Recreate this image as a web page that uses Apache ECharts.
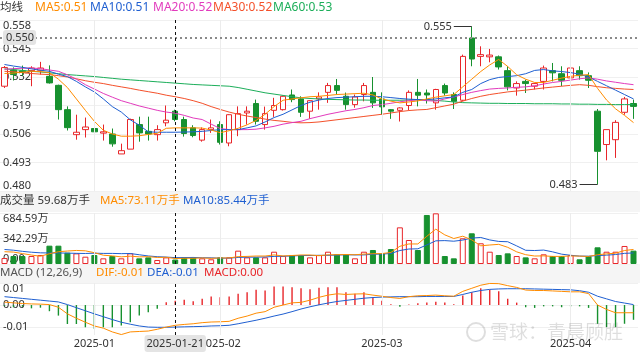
<!DOCTYPE html>
<html><head><meta charset="utf-8">
<script src="https://cdn.jsdelivr.net/npm/echarts@6/dist/echarts.min.js"></script>
<style>html,body{margin:0;padding:0;background:#fff}#c{width:640px;height:354px}</style>
</head><body><div id="c"></div>
<script>
const dates = ['2024-12-24','2024-12-25','2024-12-26','2024-12-27','2024-12-30','2024-12-31','2025-01-02','2025-01-03','2025-01-06','2025-01-07',
'2025-01-08','2025-01-09','2025-01-10','2025-01-13','2025-01-14','2025-01-15','2025-01-16','2025-01-17','2025-01-20','2025-01-21',
'2025-01-22','2025-01-23','2025-01-24','2025-01-27','2025-02-05','2025-02-06','2025-02-07','2025-02-10','2025-02-11','2025-02-12',
'2025-02-13','2025-02-14','2025-02-17','2025-02-18','2025-02-19','2025-02-20','2025-02-21','2025-02-24','2025-02-25','2025-02-26',
'2025-02-27','2025-02-28','2025-03-03','2025-03-04','2025-03-05','2025-03-06','2025-03-07','2025-03-10','2025-03-11','2025-03-12',
'2025-03-13','2025-03-14','2025-03-17','2025-03-18','2025-03-19','2025-03-20','2025-03-21','2025-03-24','2025-03-25','2025-03-26',
'2025-03-27','2025-03-28','2025-03-31','2025-04-01','2025-04-02','2025-04-03','2025-04-07','2025-04-08','2025-04-09','2025-04-10','2025-04-11'];

const openP = [.5278,.5351,.5348,.5349,.5351,.5323,.5282,.5171,.5057,.5080,
.5085,.5064,.5060,.4969,.4991,.5103,.5072,.5057,.5111,.5164,
.5126,.5088,.5032,.5080,.5103,.5019,.5080,.5156,.5199,.5103,
.5168,.5171,.5238,.5220,.5164,.5220,.5250,.5281,.5232,.5194,
.5240,.5250,.5220,.5171,.5168,.5190,.5250,.5247,.5202,.5281,
.5240,.5214,.5498,.5414,.5412,.5412,.5349,.5270,.5300,.5278,
.5300,.5349,.5335,.5316,.5349,.5326,.5164,.5012,.5034,.5159,.5199];
const closeP = [.5363,.5331,.5342,.5361,.5361,.5293,.5171,.5089,.5068,.5092,
.5070,.5070,.5015,.4984,.5126,.5065,.5060,.5080,.5123,.5126,
.5062,.5053,.5080,.5088,.5022,.5148,.5153,.5164,.5118,.5153,
.5190,.5232,.5217,.5159,.5212,.5229,.5281,.5259,.5194,.5229,
.5281,.5202,.5184,.5164,.5179,.5250,.5237,.5238,.5263,.5247,
.5209,.5414,.5402,.5422,.5420,.5366,.5275,.5290,.5290,.5290,
.5361,.5339,.5305,.5361,.5326,.5305,.4981,.5080,.5113,.5220,.5186];
const lowP = [.5270,.5304,.5325,.5278,.5331,.5290,.5126,.5076,.5034,.5044,
.4980,.5030,.5002,.4969,.4991,.5025,.5030,.5030,.5095,.5118,
.5048,.5045,.5025,.5065,.5012,.5004,.5050,.5103,.5103,.5080,
.5138,.5167,.5205,.5138,.5129,.5171,.5202,.5240,.5171,.5180,
.5209,.5179,.5148,.5129,.5117,.5168,.5186,.5199,.5171,.5235,
.5174,.5209,.5369,.5369,.5387,.5354,.5259,.5235,.5247,.5263,
.5263,.5300,.5278,.5300,.5308,.5270,.4830,.4940,.4951,.5148,.5129];
const highP = [.5370,.5364,.5372,.5369,.5389,.5373,.5285,.5186,.5148,.5135,
.5112,.5103,.5085,.5016,.5130,.5139,.5139,.5100,.5190,.5171,
.5139,.5100,.5090,.5126,.5118,.5150,.5186,.5186,.5217,.5185,
.5225,.5235,.5263,.5232,.5214,.5250,.5293,.5311,.5249,.5240,
.5293,.5320,.5250,.5174,.5182,.5259,.5311,.5263,.5266,.5290,
.5250,.5422,.5550,.5460,.5448,.5418,.5369,.5300,.5308,.5293,
.5372,.5384,.5369,.5387,.5369,.5341,.5174,.5080,.5123,.5229,.5217];

const ma5 = [.5336,.5338,.5342,.5346,.5345,.5340,.5310,.5272,.5220,.5168,
.5118,.5077,.5060,.5050,.5050,.5052,.5058,.5063,.5086,.5088,
.5088,.5088,.5087,.5078,.5066,.5075,.5086,.5102,.5122,.5150,
.5185,.5214,.5220,.5225,.5230,.5232,.5236,.5240,.5242,.5244,
.5246,.5238,.5220,.5210,.5202,.5206,.5211,.5220,.5228,.5234,
.5240,.5275,.5310,.5345,.5375,.5400,.5368,.5330,.5310,.5295,
.5295,.5305,.5315,.5323,.5328,.5331,.5268,.5215,.5175,.5145,.5112];
const ma10 = [.5377,.5370,.5364,.5357,.5351,.5346,.5333,.5322,.5300,.5275,
.5252,.5220,.5185,.5160,.5125,.5100,.5070,.5068,.5068,.5068,
.5069,.5070,.5072,.5076,.5080,.5080,.5080,.5088,.5097,.5115,
.5135,.5150,.5170,.5190,.5205,.5215,.5222,.5226,.5228,.5230,
.5232,.5232,.5230,.5226,.5222,.5219,.5217,.5217,.5220,.5225,
.5229,.5250,.5263,.5290,.5308,.5318,.5322,.5326,.5335,.5350,
.5354,.5348,.5345,.5340,.5333,.5320,.5300,.5280,.5260,.5240,.5220];
const ma20 = [.5355,.5358,.5360,.5361,.5358,.5352,.5346,.5330,.5310,.5285,
.5265,.5245,.5228,.5212,.5200,.5188,.5178,.5168,.5160,.5155,
.5145,.5133,.5126,.5105,.5085,.5080,.5080,.5080,.5082,.5088,
.5095,.5105,.5112,.5118,.5130,.5140,.5150,.5158,.5166,.5172,
.5180,.5190,.5194,.5200,.5207,.5212,.5216,.5212,.5210,.5220,
.5229,.5240,.5250,.5258,.5265,.5268,.5270,.5273,.5275,.5280,
.5288,.5295,.5300,.5306,.5312,.5316,.5310,.5302,.5296,.5290,.5285];
const ma30 = [.5346,.5344,.5340,.5336,.5333,.5331,.5326,.5320,.5312,.5303,
.5296,.5290,.5282,.5275,.5268,.5260,.5253,.5246,.5237,.5230,
.5222,.5212,.5200,.5185,.5172,.5160,.5150,.5142,.5135,.5128,
.5122,.5118,.5113,.5111,.5112,.5115,.5120,.5125,.5130,.5135,
.5140,.5145,.5150,.5156,.5162,.5167,.5170,.5172,.5180,.5188,
.5196,.5210,.5222,.5232,.5240,.5246,.5252,.5256,.5260,.5265,
.5270,.5274,.5278,.5282,.5285,.5282,.5276,.5271,.5268,.5265,.5263];
const ma60 = [.5357,.5354,.5350,.5346,.5343,.5339,.5335,.5331,.5328,.5325,
.5322,.5318,.5314,.5310,.5307,.5304,.5301,.5298,.5295,.5292,
.5289,.5286,.5284,.5282,.5280,.5278,.5272,.5264,.5256,.5248,
.5242,.5236,.5230,.5225,.5222,.5220,.5218,.5217,.5216,.5215,
.5215,.5214,.5214,.5214,.5214,.5215,.5216,.5216,.5213,.5210,
.5206,.5203,.5202,.5201,.5200,.5200,.5199,.5199,.5199,.5198,
.5198,.5198,.5197,.5197,.5196,.5196,.5195,.5195,.5194,.5194,.5194];

const volume = [80,107,107,107,121,246,246,152,143,98,
121,76,107,76,143,76,89,54,89,59.68,
89,89,76,63,89,89,179,89,89,89,
165,107,121,121,89,120,165,130,130,76,
165,188,143,201,492,322,188,658,680,107,
76,345,412,278,165,121,143,107,89,76,
130,107,107,121,63,107,224,165,165,242,179];
const volMa5 = [165,160,140,120,104,138,165,174,182,177,
152,118,109,96,105,96,98,88,90,73.11,
77,77,81,76,81,81,99,102,107,107,
122,108,114,121,121,112,123,125,127,124,
133,138,140,155,238,269,269,372,468,391,
342,373,324,244,255,264,224,163,125,107,
109,102,102,108,106,101,124,136,145,181,195];
const volMa10 = [195,185,170,158,150,148,148,146,143,141,
145,142,142,139,141,124,108,98,93,85.44,
86,88,84,83,78,79,88,92,92,94,
102,104,108,114,114,117,116,120,124,122,
122,131,133,141,181,201,204,256,311,314,
306,321,348,356,323,303,299,243,184,181,
187,163,132,117,106,105,113,119,127,143,148];

const macdHist = [-.0005,-.0010,-.0008,-.0015,-.0012,-.0028,-.0048,-.0086,-.0086,-.0101,
-.0108,-.0101,-.0101,-.0093,-.0078,-.0048,-.0033,-.0017,.0013,.0020,
.0024,.0017,.0028,.0039,.0035,.0039,.0051,.0058,.0069,.0066,
.0084,.0084,.0081,.0076,.0072,.0078,.0081,.0081,.0058,.0051,
.0058,.0035,.0020,.0003,-.0008,.0002,.0008,.0012,.0015,.0012,
.0004,.0043,.0058,.0076,.0069,.0063,.0028,.0011,-.0010,-.0013,
-.0006,-.0006,-.0010,-.0006,-.0006,-.0013,-.0085,-.0100,-.0100,-.0085,-.0067];
const dif = [.0013,.0010,.0007,.0005,.0004,.0002,-.0010,-.0040,-.0060,-.0078,
-.0095,-.0105,-.0122,-.0134,-.0122,-.0120,-.0118,-.0110,-.0100,-.0092,
-.0088,-.0085,-.0080,-.0077,-.0076,-.0074,-.0060,-.0050,-.0037,-.0030,
-.0010,.0000,.0010,.0012,.0022,.0035,.0045,.0051,.0048,.0050,
.0051,.0045,.0040,.0034,.0030,.0038,.0042,.0043,.0045,.0042,
.0040,.0062,.0076,.0090,.0098,.0097,.0088,.0080,.0068,.0066,
.0066,.0064,.0062,.0060,.0060,.0052,.0000,-.0020,-.0035,-.0035,-.0035];
const dea = [.0038,.0034,.0030,.0026,.0022,.0018,.0014,.0002,-.0012,-.0026,
-.0040,-.0053,-.0066,-.0078,-.0087,-.0095,-.0100,-.0101,-.0101,-.0100,
-.0099,-.0098,-.0097,-.0095,-.0094,-.0092,-.0085,-.0077,-.0069,-.0060,
-.0050,-.0041,-.0030,-.0018,-.0008,.0001,.0009,.0016,.0021,.0026,
.0031,.0034,.0036,.0037,.0038,.0038,.0038,.0039,.0039,.0039,
.0039,.0048,.0058,.0066,.0071,.0073,.0074,.0074,.0074,.0073,
.0072,.0071,.0070,.0069,.0065,.0058,.0040,.0028,.0016,.0009,.0002];

const priceTicks = [0.480,0.493,0.506,0.519,0.532,0.545,0.558];
const volTicks = [0, 342.295, 684.59];
const volTickLabels = ['0.00','342.29万','684.59万'];
const macdTicks = [-0.01, 0, 0.01];
const macdTickLabels = ['-0.01','0.00','0.01'];
const xLabelIndex = [10,24,42,63];
const xLabelText = ['2025-01','2025-02','2025-03','2025-04'];
const focusIndex = 19;
const focusPrice = 0.550;

const FONT = '"Noto Sans", "Noto Sans CJK SC", sans-serif';
const UP = '#e8262a', DOWN = '#17912f';
const C5 = '#ff8c00', C10 = '#1f5fd1', C20 = '#e23bbd', C30 = '#f4502a', C60 = '#1cae5a';

const candles = dates.map((d,i)=>[openP[i], closeP[i], lowP[i], highP[i]]);
const isUp = i => closeP[i] >= openP[i];

const hiVal = Math.max(...highP), hiIdx = highP.indexOf(hiVal);
const loVal = Math.min(...lowP), loIdx = lowP.indexOf(loVal);

function pick(arr, labels){ return v => { let k=0, b=1e9; arr.forEach((t,j)=>{const d=Math.abs(t-v); if(d<b){b=d;k=j;}}); return labels[k]; }; }

const chart = echarts.init(document.getElementById('c'), null, {renderer:'canvas'});
const grids = [
  {left:-1, right:2, top:20, height:171},
  {left:-1, right:2, top:213, height:51},
  {left:-1, right:2, top:283, height:52}
];
const xAxes = [0,1,2].map(g => ({
  type:'category', gridIndex:g, data:dates, boundaryGap:true,
  axisLine:{show:false}, axisTick:{show:false}, splitLine:{show:false},
  axisLabel: g===2 ? {
    show:true, color:'#333', fontSize:11, margin:3, fontFamily:FONT,
    interval:(i)=>xLabelIndex.indexOf(i)>=0,
    formatter:(v,i)=>xLabelText[xLabelIndex.indexOf(i)] || ''
  } : {show:false},
  axisPointer:{
    show:true, type:'line', value:focusIndex, status:'show', triggerTooltip:false, snap:false,
    lineStyle:{color:'#111', type:[3,3], width:1},
    label:{show:g===2, formatter:()=>dates[focusIndex], backgroundColor:'#e4e4e4', color:'#333', fontSize:11, padding:[3,2,3,2], fontFamily:FONT, margin:0}
  }
}));
const yCommon = {axisLine:{show:false}, splitLine:{show:true, lineStyle:{color:'#f0f0f0'}}};
const yAxes = [
  Object.assign({}, yCommon, {type:'value', gridIndex:0, min:0.480, max:0.558, scale:true,
    axisTick:{show:false, customValues:priceTicks},
    axisLabel:{inside:true, margin:3, color:'#333', fontSize:11, fontFamily:FONT, customValues:priceTicks,
      formatter:v=>v.toFixed(3), verticalAlignMinLabel:'bottom', verticalAlignMaxLabel:'top'},
    axisPointer:{show:true, type:'line', value:focusPrice, status:'show', triggerTooltip:false, snap:false,
      lineStyle:{color:'#8a8a8a', type:[2,3], width:2},
      label:{show:true, formatter:()=>focusPrice.toFixed(3), backgroundColor:'#e4e4e4', color:'#333', fontSize:11, padding:[2,2,2,3], fontFamily:FONT}}
  }),
  Object.assign({}, yCommon, {type:'value', gridIndex:1, min:0, max:684.59,
    axisTick:{show:false, customValues:volTicks},
    axisLabel:{inside:true, margin:3, color:'#333', fontSize:11, fontFamily:FONT, customValues:volTicks,
      formatter:pick(volTicks, volTickLabels), verticalAlignMinLabel:'bottom', verticalAlignMaxLabel:'top'}
  }),
  Object.assign({}, yCommon, {type:'value', gridIndex:2, min:-0.0136, max:0.01,
    axisTick:{show:false, customValues:macdTicks},
    axisLabel:{inside:true, margin:3, color:'#333', fontSize:11, fontFamily:FONT, customValues:macdTicks,
      formatter:pick(macdTicks, macdTickLabels), verticalAlignMaxLabel:'top'}
  })
];

function gridLineSeries(g){
  return {type:'line', xAxisIndex:g, yAxisIndex:g, data:[], z:1, silent:true,
    markLine:{silent:true, symbol:['none','none'], label:{show:false}, animation:false,
      lineStyle:{color:'#ececec', type:'solid', width:1},
      data: xLabelIndex.map(i=>({xAxis: dates[i]}))}};
}
function maLine(name, data, color, x, y){
  return {name, type:'line', xAxisIndex:x, yAxisIndex:y, data, showSymbol:false, symbol:'none', silent:true, z:4,
    lineStyle:{color, width:1}, itemStyle:{color}};
}

const series = [
  gridLineSeries(0), gridLineSeries(1), gridLineSeries(2),
  {type:'candlestick', xAxisIndex:0, yAxisIndex:0, data:candles, barWidth:6, z:3, silent:true,
    itemStyle:{color:'#ffffff', color0:DOWN, borderColor:UP, borderColor0:DOWN, borderWidth:1},
    markLine:{silent:true, symbol:['none','none'], animation:false,
      lineStyle:{color:'#333', type:'solid', width:1},
      label:{show:true, position:'start', color:'#333', fontSize:11, fontFamily:FONT, distance:2},
      data:[
        [{coord:[hiIdx-2, hiVal], label:{formatter:hiVal.toFixed(3)}}, {coord:[hiIdx, hiVal]}],
        [{coord:[loIdx-2, loVal], label:{formatter:loVal.toFixed(3)}}, {coord:[loIdx, loVal]}]
      ]}
  },
  maLine('MA60', ma60, C60, 0, 0),
  maLine('MA30', ma30, C30, 0, 0),
  maLine('MA20', ma20, C20, 0, 0),
  maLine('MA10', ma10, C10, 0, 0),
  maLine('MA5', ma5, C5, 0, 0),
  {type:'bar', xAxisIndex:1, yAxisIndex:1, barWidth:6, z:3, silent:true,
    data: volume.map((v,i)=>({value:v, itemStyle: isUp(i) ? {color:'#fff', borderColor:UP, borderWidth:1} : {color:DOWN, borderColor:DOWN, borderWidth:1}}))},
  maLine('VMA10', volMa10, C10, 1, 1),
  maLine('VMA5', volMa5, C5, 1, 1),
  {type:'bar', xAxisIndex:2, yAxisIndex:2, barWidth:1.4, z:3, silent:true,
    data: macdHist.map(v=>({value:v, itemStyle:{color: v>=0 ? UP : DOWN}}))},
  maLine('DEA', dea, C10, 2, 2),
  maLine('DIF', dif, C5, 2, 2)
];

function txt(x, y, text, color, size){
  return {type:'text', x, y, silent:true, style:{text, fill:color, font:`${size||11.5}px ${FONT}`, verticalAlign:'middle'}};
}
const f2 = v=>v.toFixed(2);
const graphic = [
  {type:'rect', shape:{x:0, y:191, width:640, height:21}, style:{fill:'#f5f5f5'}, silent:true, z:-1},
  {type:'rect', shape:{x:0, y:264, width:640, height:19}, style:{fill:'#f5f5f5'}, silent:true, z:-1},
  txt(0, 8, '均线', '#333'),
  txt(35, 8, 'MA5:'+f2(ma5[focusIndex]), C5, 12),
  txt(90, 8, 'MA10:'+f2(ma10[focusIndex]), C10, 12),
  txt(153, 8, 'MA20:'+f2(ma20[focusIndex]), C20, 12),
  txt(213, 8, 'MA30:'+f2(ma30[focusIndex]), C30, 12),
  txt(273, 8, 'MA60:'+f2(ma60[focusIndex]), C60, 12),
  txt(0, 201, '成交量 '+f2(volume[focusIndex])+'万手', '#333'),
  txt(100, 201, 'MA5:'+f2(volMa5[focusIndex])+'万手', C5),
  txt(183, 201, 'MA10:'+f2(volMa10[focusIndex])+'万手', C10),
  txt(0, 273, 'MACD (12,26,9)', '#555'),
  txt(96, 273, 'DIF:'+f2(dif[focusIndex]), C5),
  txt(147, 273, 'DEA:'+f2(dea[focusIndex]), C10),
  txt(204, 273, 'MACD:'+f2(macdHist[focusIndex]), UP),
  {type:'circle', shape:{cx:476, cy:332, r:9}, style:{fill:'none', stroke:'rgba(0,0,0,0.13)', lineWidth:2}, silent:true, z:10},
  {type:'text', x:490, y:332, silent:true, z:10, style:{text:'雪球：青晨顾胜', fill:'rgba(0,0,0,0.13)', font:`19px "Noto Sans CJK SC", sans-serif`, verticalAlign:'middle'}}
];

chart.setOption({
  animation:false, backgroundColor:'#fff',
  textStyle:{fontFamily:FONT},
  axisPointer:{triggerOn:'none', link:[]},
  grid:grids, xAxis:xAxes, yAxis:yAxes, series, graphic
});
</script></body></html>
